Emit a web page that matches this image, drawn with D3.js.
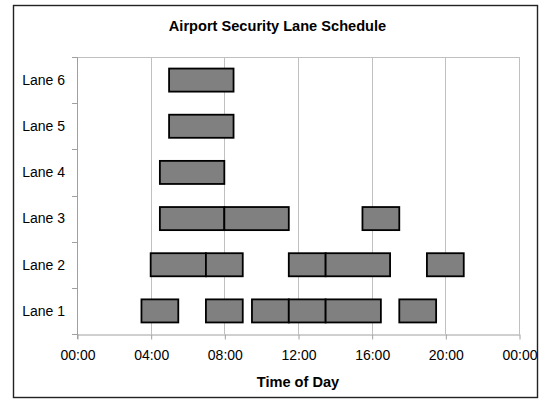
<!DOCTYPE html>
<html>
<head>
<meta charset="utf-8">
<script src="https://cdn.jsdelivr.net/npm/d3@7"></script>
<style>
  body { margin: 0; background: #fff; }
  text { font-family: "Liberation Sans", Arial, sans-serif; fill: #000; }
</style>
</head>
<body>
<div id="chart"></div>
<script>
// lanes, bottom to top
const lanes = ['Lane 1', 'Lane 2', 'Lane 3', 'Lane 4', 'Lane 5', 'Lane 6'];

// one entry per shift block (hours of day)
const shiftLane = [
  'Lane 6',
  'Lane 5',
  'Lane 4',
  'Lane 3', 'Lane 3', 'Lane 3',
  'Lane 2', 'Lane 2', 'Lane 2', 'Lane 2', 'Lane 2',
  'Lane 1', 'Lane 1', 'Lane 1', 'Lane 1', 'Lane 1', 'Lane 1',
];
const shiftStart = [5, 5, 4.5, 4.5, 8, 15.5, 4, 7, 11.5, 13.5, 19, 3.5, 7, 9.5, 11.5, 13.5, 17.5];
const shiftEnd = [8.5, 8.5, 8, 8, 11.5, 17.5, 7, 9, 13.5, 17, 21, 5.5, 9, 11.5, 13.5, 16.5, 19.5];

const hourTicks = [0, 4, 8, 12, 16, 20, 24];
const hourTickLabels = ['00:00', '04:00', '08:00', '12:00', '16:00', '20:00', '00:00'];

const width = 547;
const height = 401;
const margin = { left: 77, right: 28, top: 57, bottom: 67 };

const svg = d3.select('#chart').append('svg')
  .attr('width', width)
  .attr('height', height);

// outer frame
svg.append('rect')
  .attr('x', 13.5)
  .attr('y', 5.5)
  .attr('width', 524)
  .attr('height', 392)
  .attr('fill', '#fff')
  .attr('stroke', '#222')
  .attr('stroke-width', 1.4);

const x = d3.scaleLinear()
  .domain([0, 24])
  .range([margin.left, width - margin.right]);

const y = d3.scaleBand()
  .domain(lanes)
  .range([height - margin.bottom, margin.top])
  .paddingInner(0.5)
  .paddingOuter(0.25);

const plotTop = margin.top;
const plotBottom = height - margin.bottom;

// vertical grid lines
svg.append('g')
  .attr('class', 'grid')
  .selectAll('line')
  .data(hourTicks.slice(1))
  .join('line')
  .attr('x1', (d) => Math.round(x(d)) + 0.5)
  .attr('x2', (d) => Math.round(x(d)) + 0.5)
  .attr('y1', plotTop)
  .attr('y2', plotBottom)
  .attr('stroke', '#c0c0c0')
  .attr('stroke-width', 1);

// top border of plot area
svg.append('line')
  .attr('x1', x(0))
  .attr('x2', x(24))
  .attr('y1', plotTop + 0.5)
  .attr('y2', plotTop + 0.5)
  .attr('stroke', '#c0c0c0');

// x axis
const xAxis = d3.axisBottom(x)
  .tickValues(hourTicks)
  .tickFormat((d, i) => hourTickLabels[i])
  .tickSize(5)
  .tickSizeOuter(0)
  .tickPadding(11);

const gx = svg.append('g')
  .attr('transform', `translate(0.5,${Math.round(plotBottom) + 0.5})`)
  .call(xAxis);
gx.select('.domain').attr('stroke', '#a0a0a0');
gx.selectAll('.tick line').attr('stroke', '#a0a0a0');
gx.selectAll('.tick text')
  .attr('font-size', 14)
  .attr('font-family', '"Liberation Sans", Arial, sans-serif')
  .attr('fill', '#000');

// y axis: ticks between lanes, labels at lane centres
const laneStep = y.step();
const yBoundaries = d3.range(lanes.length + 1).map((i) => plotBottom - i * laneStep);

const gy = svg.append('g').attr('class', 'y-axis');
gy.append('line')
  .attr('x1', Math.round(x(0)) + 0.5)
  .attr('x2', Math.round(x(0)) + 0.5)
  .attr('y1', plotTop)
  .attr('y2', plotBottom + 5)
  .attr('stroke', '#a0a0a0');
gy.selectAll('line.ytick')
  .data(yBoundaries)
  .join('line')
  .attr('class', 'ytick')
  .attr('x1', x(0) - 5)
  .attr('x2', x(0))
  .attr('y1', (d) => Math.round(d) + 0.5)
  .attr('y2', (d) => Math.round(d) + 0.5)
  .attr('stroke', '#a0a0a0');
gy.selectAll('text')
  .data(lanes)
  .join('text')
  .attr('x', 65)
  .attr('y', (d) => y(d) + y.bandwidth() / 2)
  .attr('dy', '0.35em')
  .attr('text-anchor', 'end')
  .attr('font-size', 14)
  .text((d) => d);

// shift bars
const shifts = shiftLane.map((lane, i) => ({ lane, start: shiftStart[i], end: shiftEnd[i] }));

svg.append('g')
  .attr('class', 'bars')
  .selectAll('rect')
  .data(shifts)
  .join('rect')
  .attr('x', (d) => x(d.start))
  .attr('y', (d) => y(d.lane))
  .attr('width', (d) => x(d.end) - x(d.start))
  .attr('height', y.bandwidth())
  .attr('fill', '#808080')
  .attr('stroke', '#000')
  .attr('stroke-width', 1.8);

// title
svg.append('text')
  .attr('x', 277.5)
  .attr('y', 31)
  .attr('text-anchor', 'middle')
  .attr('font-size', 14.6)
  .attr('font-weight', 'bold')
  .text('Airport Security Lane Schedule');

// x axis title
svg.append('text')
  .attr('x', (x(0) + x(24)) / 2)
  .attr('y', 387)
  .attr('text-anchor', 'middle')
  .attr('font-size', 14.6)
  .attr('font-weight', 'bold')
  .text('Time of Day');
</script>
</body>
</html>
